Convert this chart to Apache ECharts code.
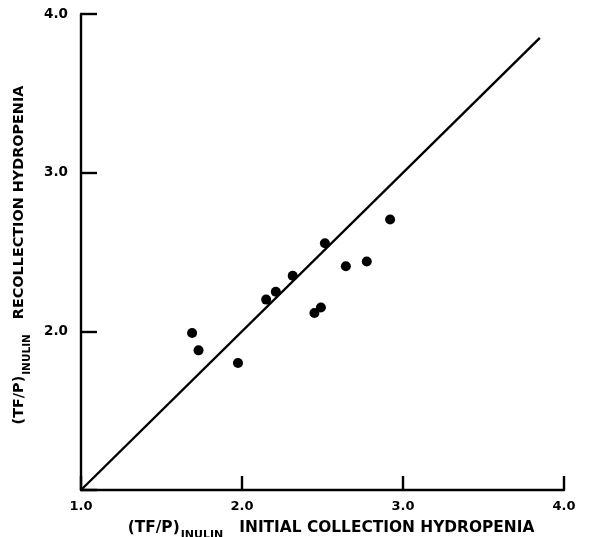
<!DOCTYPE html>
<html>
<head>
<meta charset="utf-8">
<script src="https://cdn.jsdelivr.net/npm/echarts@6/dist/echarts.min.js"></script>
<style>
html,body{margin:0;padding:0;background:#fff;}
#c{width:612px;height:537px;}
</style>
</head>
<body>
<div id="c"></div>
<script>
// Data
const initialCollection = [1.69, 1.73, 1.975, 2.15, 2.21, 2.315, 2.515, 2.45, 2.49, 2.645, 2.775, 2.92];
const recollection      = [1.99, 1.88, 1.80, 2.20, 2.25, 2.35, 2.555, 2.115, 2.15, 2.41, 2.44, 2.705];
const identityLine = [[1.0, 1.0], [3.85, 3.85]];
const xTickLabels = ['1.0', '2.0', '3.0', '4.0'];
const yTickLabels = ['', '2.0', '3.0', '4.0'];
const titleMain = '(TF/P)';
const titleSub = 'INULIN';
const xTitleRest = 'INITIAL COLLECTION HYDROPENIA';
const yTitleRest = 'RECOLLECTION HYDROPENIA';

const points = initialCollection.map((x, i) => [x, recollection[i]]);
const FONT = 'DejaVu Sans';
function richTitle(mainSize, subSize) {
  return {
    m: {color: '#000', fontFamily: FONT, fontWeight: 'bold', fontSize: mainSize},
    s: {color: '#000', fontFamily: FONT, fontWeight: 'bold', fontSize: subSize, padding: [16, 0, 0, 1]}
  };
}

const chart = echarts.init(document.getElementById('c'), null, {renderer: 'canvas'});
chart.setOption({
  animation: false,
  backgroundColor: '#fff',
  grid: {left: 81, right: 48, top: 14, bottom: 47, outerBoundsMode: 'none', containLabel: false},
  xAxis: {
    type: 'value', min: 1, max: 4, interval: 1,
    splitLine: {show: false},
    axisLine: {show: true, onZero: false, lineStyle: {color: '#000', width: 2.4}},
    axisTick: {show: true, inside: true, length: 14, lineStyle: {color: '#000', width: 2.4}},
    axisLabel: {
      color: '#000', fontFamily: FONT, fontWeight: 'bold', fontSize: 13, margin: 10,
      formatter: v => xTickLabels[Math.round(v) - 1]
    },
    name: '{m|' + titleMain + '}{s|' + titleSub + '}{m|   ' + xTitleRest + '}',
    nameLocation: 'middle', nameGap: 24,
    nameTextStyle: {padding: [0, 0, 0, 17], rich: richTitle(15.4, 11)}
  },
  yAxis: {
    type: 'value', min: 1, max: 4, interval: 1,
    splitLine: {show: false},
    axisLine: {show: true, onZero: false, lineStyle: {color: '#000', width: 2.4}},
    axisTick: {show: true, inside: true, length: 16, lineStyle: {color: '#000', width: 2.4}},
    axisLabel: {
      color: '#000', fontFamily: FONT, fontWeight: 'bold', fontSize: 13.5, margin: 13,
      formatter: v => yTickLabels[Math.round(v) - 1]
    },
    name: '{m|' + titleMain + '}{s|' + titleSub + '}{m|   ' + yTitleRest + '}',
    nameLocation: 'middle', nameGap: 39, nameRotate: 90,
    nameTextStyle: {padding: [0, 6, 0, 0], rich: richTitle(14.4, 10.5)}
  },
  series: [
    {
      type: 'line', data: identityLine, showSymbol: false, symbol: 'none',
      lineStyle: {color: '#000', width: 2.4}, silent: true, z: 2
    },
    {
      type: 'scatter', data: points, symbol: 'circle', symbolSize: 10,
      itemStyle: {color: '#000', opacity: 1}, z: 3
    }
  ]
});
</script>
</body>
</html>
